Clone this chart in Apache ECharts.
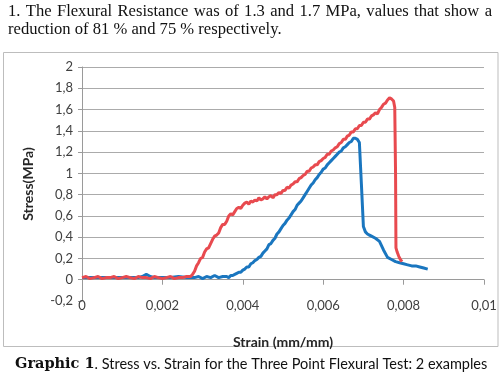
<!DOCTYPE html>
<html>
<head>
<meta charset="utf-8">
<script src="https://cdn.jsdelivr.net/npm/echarts@6/dist/echarts.min.js"></script>
<style>
html,body{margin:0;padding:0;background:#fff;}
#main{width:502px;height:377px;}
</style>
</head>
<body>
<div id="main"></div>
<script>
// Strain (mm/mm) and stress (MPa)
var strainRed = [0,0.0001,0.0002,0.0003,0.0004,0.0005,0.0006,0.0007,0.0008,0.0009,0.0010,0.0011,0.0012,0.0013,0.0014,0.0015,0.0016,0.0017,0.0018,0.0019,0.0020,0.0021,0.0022,0.0023,0.0024,0.0025,0.0026,
  0.00270,0.00275,0.00280,0.00285,0.00290,0.00295,0.00300,0.00305,0.00310,0.00315,0.00320,0.00325,0.00330,0.00335,0.00340,0.00345,0.00350,0.00355,0.00360,0.00365,0.00370,0.00375,0.00380,0.00385,0.00390,0.00395,
  0.00400,0.00405,0.00410,0.00415,0.00420,0.00425,0.00430,0.00435,0.00440,0.00445,0.00450,0.00455,0.00460,0.00465,0.00470,0.00475,0.00480,0.00485,0.00490,0.00495,
  0.00500,0.00505,0.00510,0.00515,0.00520,0.00525,0.00530,0.00535,0.00540,0.00545,0.00550,0.00555,0.00560,0.00565,0.00570,0.00575,0.00580,0.00585,0.00590,0.00595,
  0.00600,0.00605,0.00610,0.00615,0.00620,0.00625,0.00630,0.00635,0.00640,0.00645,0.00650,0.00655,0.00660,0.00665,0.00670,0.00675,0.00680,0.00685,0.00690,0.00695,
  0.00700,0.00705,0.00710,0.00715,0.00720,0.00725,0.00730,0.00735,0.00740,0.00745,0.00750,0.00755,0.00760,0.00765,0.00770,0.00775,0.00778,
  0.00780,0.00781,0.00784,0.00788,0.00792,0.00796];
var stressRed = [0.02,0.03,0.01,0.02,0.03,0.01,0.02,0.02,0.03,0.01,0.02,0.03,0.02,0.01,0.03,0.02,0.02,0.01,0.03,0.02,0.01,0.02,0.03,0.01,0.02,0.02,0.03,
  0.03,0.05,0.08,0.13,0.16,0.20,0.21,0.26,0.29,0.30,0.34,0.38,0.41,0.42,0.44,0.49,0.52,0.52,0.55,0.60,0.62,0.61,0.64,0.67,0.68,0.67,
  0.70,0.72,0.73,0.71,0.74,0.73,0.75,0.74,0.77,0.75,0.76,0.78,0.76,0.78,0.79,0.77,0.80,0.80,0.82,0.81,
  0.84,0.84,0.87,0.86,0.89,0.90,0.92,0.92,0.95,0.96,0.98,0.99,1.02,1.02,1.05,1.06,1.08,1.08,1.11,1.12,
  1.14,1.15,1.18,1.18,1.21,1.22,1.24,1.25,1.28,1.29,1.32,1.32,1.35,1.36,1.39,1.39,1.42,1.42,1.45,1.45,
  1.48,1.48,1.51,1.51,1.54,1.55,1.57,1.56,1.60,1.62,1.65,1.66,1.69,1.71,1.70,1.68,1.62,
  1.00,0.30,0.26,0.22,0.19,0.17];
var strainBlue = [0,0.0002,0.0004,0.0006,0.0008,0.0010,0.0012,0.0014,0.0015,0.0016,0.0017,0.0018,0.0020,0.0022,0.0024,0.0026,0.0028,0.0029,0.0030,0.0031,0.0032,0.0033,0.0034,0.0035,
  0.00360,0.00365,0.00370,0.00375,0.00380,0.00385,0.00390,0.00395,
  0.00400,0.00405,0.00410,0.00415,0.00420,0.00425,0.00430,0.00435,0.00440,0.00445,0.00450,0.00455,0.00460,0.00465,0.00470,0.00475,0.00480,0.00485,0.00490,0.00495,
  0.00500,0.00505,0.00510,0.00515,0.00520,0.00525,0.00530,0.00535,0.00540,0.00545,0.00550,0.00555,0.00560,0.00565,0.00570,0.00575,0.00580,0.00585,0.00590,0.00595,
  0.00600,0.00605,0.00610,0.00615,0.00620,0.00625,0.00630,0.00635,0.00640,0.00645,0.00650,0.00655,0.00660,0.00665,0.00670,0.00675,0.00680,0.00685,0.00690,0.00695,
  0.0070,0.00705,0.0071,0.00715,0.0072,0.0073,0.0074,0.0075,0.0076,0.0077,0.0078,0.0079,0.0080,0.0081,0.0082,0.0083,0.0084,0.0085,0.0086];
var stressBlue = [0.02,0.02,0.02,0.02,0.02,0.02,0.02,0.02,0.03,0.05,0.03,0.02,0.02,0.02,0.03,0.02,0.02,0.03,0.01,0.03,0.02,0.04,0.02,0.03,
  0.03,0.02,0.04,0.04,0.05,0.06,0.07,0.07,
  0.09,0.10,0.12,0.12,0.15,0.16,0.18,0.19,0.21,0.22,0.25,0.27,0.29,0.33,0.34,0.37,0.39,0.43,0.45,0.48,
  0.51,0.53,0.56,0.58,0.61,0.64,0.66,0.70,0.72,0.74,0.77,0.80,0.83,0.86,0.89,0.91,0.94,0.96,0.99,1.01,
  1.04,1.05,1.08,1.10,1.12,1.14,1.16,1.18,1.20,1.21,1.24,1.25,1.27,1.29,1.30,1.33,1.33,1.32,1.29,0.90,
  0.50,0.45,0.43,0.42,0.41,0.39,0.36,0.28,0.21,0.19,0.17,0.16,0.15,0.14,0.13,0.13,0.12,0.11,0.10];
var yTicks = ['-0,2','0','0,2','0,4','0,6','0,8','1','1,2','1,4','1,6','1,8','2'];
var xTicks = ['0','0,002','0,004','0,006','0,008','0,01'];
var textLine1 = '1. The Flexural Resistance was of 1.3 and 1.7 MPa, values that show a';
var textLine2 = 'reduction of 81 % and 75 % respectively.';
var captionBold = 'Graphic 1';
var captionRest = '. Stress vs. Strain for the Three Point Flexural Test: 2 examples';

function pairs(xs, ys){ return xs.map(function(x,i){ return [x, ys[i]]; }); }

// justified first line of the paragraph
var serifFont = '16.6px "Liberation Serif"';
var ctx = document.createElement('canvas').getContext('2d');
ctx.font = serifFont;
var words = textLine1.split(' ');
var widths = words.map(function(w){ return ctx.measureText(w).width; });
var total = widths.reduce(function(a,b){ return a+b; }, 0);
var lineLeft = 8, lineRight = 492;
var gap = (lineRight - lineLeft - total) / (words.length - 1);
var graphics = [
  {type:'rect', shape:{x:3.5, y:52.5, width:494.5, height:294}, style:{fill:'none', stroke:'#bdbdbd', lineWidth:1}, z:-1},
  {type:'text', x:8, y:21, style:{text:textLine2, font:serifFont, fill:'#111', verticalAlign:'top', align:'left'}},
  {type:'text', left:15, top:357, style:{
    text:'{b|' + captionBold + '}{n|' + captionRest + '}',
    rich:{b:{font:'bold 14.5px "DejaVu Serif"', fill:'#111'}, n:{font:'14.5px Lato', fill:'#111'}}
  }}
];
var cx = lineLeft;
words.forEach(function(w, i){
  graphics.push({type:'text', x:cx, y:3, style:{text:w, font:serifFont, fill:'#111', verticalAlign:'top', align:'left'}});
  cx += widths[i] + gap;
});

var chart = echarts.init(document.getElementById('main'), null, {renderer:'canvas'});
var gridColors = ['rgba(0,0,0,0)'];
for (var i = 1; i < yTicks.length; i++) gridColors.push('#ababab');

chart.setOption({
  animation:false,
  backgroundColor:'#ffffff',
  grid:{left:82, right:18, top:67, bottom:76},
  xAxis:[{
    type:'value', min:0, max:0.01, interval:0.002,
    axisLine:{show:true, onZero:true, lineStyle:{color:'#9a9a9a', width:1}},
    axisTick:{show:true, length:5, lineStyle:{color:'#9a9a9a'}},
    axisLabel:{show:false},
    splitLine:{show:false}
  },{
    type:'value', min:0, max:0.01, interval:0.002, position:'bottom',
    axisLine:{show:false, onZero:false},
    axisTick:{show:false},
    splitLine:{show:false},
    axisLabel:{show:true, margin:-2, color:'#404040', fontFamily:'Lato', fontSize:13,
      formatter:function(v){ return xTicks[Math.round(v/0.002)]; }},
    name:'Strain (mm/mm)', nameLocation:'middle', nameGap:34,
    nameTextStyle:{fontFamily:'Lato', fontWeight:'bold', fontSize:14, color:'#262626'}
  }],
  yAxis:{
    type:'value', min:-0.2, max:2, interval:0.2,
    axisLine:{show:true, lineStyle:{color:'#9a9a9a'}},
    axisTick:{show:true, length:4, lineStyle:{color:'#9a9a9a'}},
    axisLabel:{margin:9, color:'#404040', fontFamily:'Lato', fontSize:13,
      formatter:function(v){ return yTicks[Math.round((v+0.2)/0.2)]; }},
    splitLine:{show:true, lineStyle:{color:gridColors, width:1}},
    name:'Stress(MPa)', nameLocation:'middle', nameGap:47, nameRotate:90,
    nameTextStyle:{fontFamily:'Lato', fontWeight:'bold', fontSize:14, color:'#262626'}
  },
  series:[{
    type:'line', xAxisIndex:0, data:pairs(strainBlue, stressBlue), showSymbol:false, symbol:'none',
    lineStyle:{color:'#1a76bf', width:3}, z:2
  },{
    type:'line', xAxisIndex:0, data:pairs(strainRed, stressRed), showSymbol:false, symbol:'none',
    lineStyle:{color:'#e84a4f', width:3}, z:3
  }],
  graphic:graphics
});
</script>
</body>
</html>
